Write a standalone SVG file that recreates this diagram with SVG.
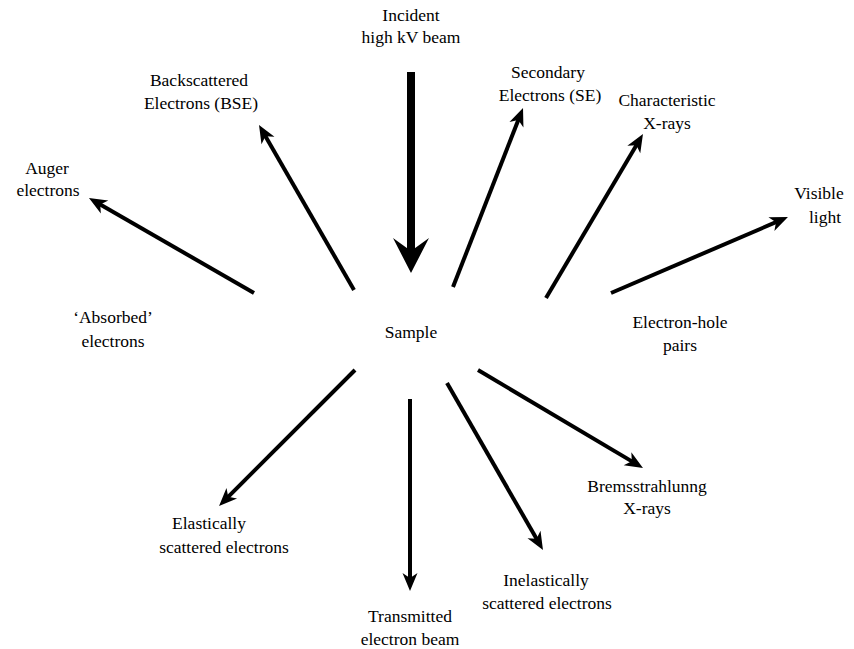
<svg xmlns="http://www.w3.org/2000/svg" width="854" height="649" viewBox="0 0 854 649">
<style>
text{font-family:'Liberation Serif','DejaVu Serif',serif;font-size:17.5px;fill:#000;text-anchor:middle}
.a{stroke:#000;stroke-width:4;fill:none;marker-end:url(#h)}
.big{stroke:#000;stroke-width:8;fill:none;marker-end:url(#H)}
</style>
<defs>
<marker id="h" markerUnits="userSpaceOnUse" orient="auto" refX="0" refY="0" markerWidth="40" markerHeight="40" overflow="visible"><path d="M8,0 L-10,-7.5 L-5,0 L-10,7.5 Z" fill="#000"/></marker>
<marker id="H" markerUnits="userSpaceOnUse" orient="auto" refX="0" refY="0" markerWidth="80" markerHeight="80" overflow="visible"><path d="M18,0 L-17,-18 L-4,0 L-17,18 Z" fill="#000"/></marker>
</defs>
<rect width="854" height="649" fill="#fff"/>
<g id="connectors">
<path class="big" d="M411,72 L411,255"/>
<path class="a" d="M354,290 L263,131.9"/>
<path class="a" d="M254,293 L95.9,202"/>
<path class="a" d="M453,287 L520.1,115.4"/>
<path class="a" d="M546,298 L638.9,140.9"/>
<path class="a" d="M611,293 L780.6,220.2"/>
<path class="a" d="M355,370 L224.7,500.3"/>
<path class="a" d="M410,399 L410,583"/>
<path class="a" d="M447,383 L539,543.1"/>
<path class="a" d="M478,370 L636.1,463.9"/>
</g>
<g id="incident"><text x="411" y="21">Incident</text><text x="411" y="43">high kV beam</text></g>
<g id="bse"><text x="199" y="86">Backscattered</text><text x="201" y="109">Electrons (BSE)</text></g>
<g id="se"><text x="548" y="78">Secondary</text><text x="550" y="101">Electrons (SE)</text></g>
<g id="characteristic"><text x="667" y="106">Characteristic</text><text x="667" y="129">X-rays</text></g>
<g id="visible"><text x="819" y="199">Visible</text><text x="825" y="223">light</text></g>
<g id="auger"><text x="47" y="174">Auger</text><text x="48" y="196">electrons</text></g>
<g id="absorbed"><text x="113" y="323">&#8216;Absorbed&#8217;</text><text x="113" y="347">electrons</text></g>
<g id="sample"><text x="411" y="338">Sample</text></g>
<g id="ehpairs"><text x="680" y="328">Electron-hole</text><text x="680" y="351">pairs</text></g>
<g id="brems"><text x="647" y="492">Bremsstrahlunng</text><text x="647" y="514">X-rays</text></g>
<g id="elastic"><text x="209" y="529">Elastically</text><text x="224" y="553">scattered electrons</text></g>
<g id="transmitted"><text x="410" y="622">Transmitted</text><text x="410" y="645">electron beam</text></g>
<g id="inelastic"><text x="546" y="586">Inelastically</text><text x="547" y="609">scattered electrons</text></g>
</svg>
